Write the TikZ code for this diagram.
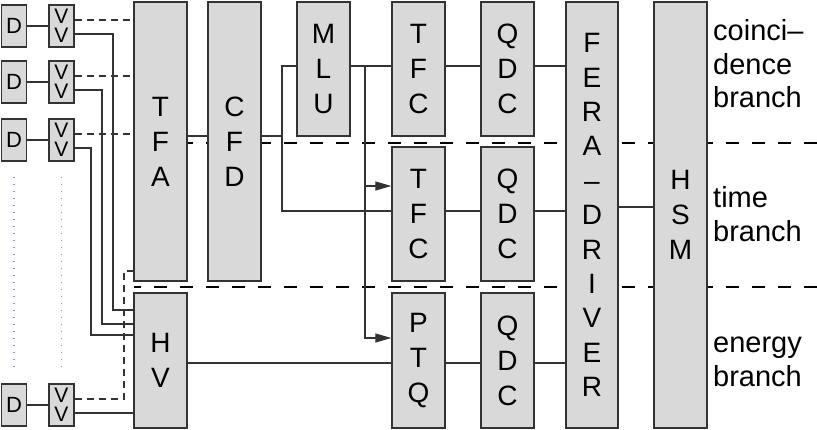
\documentclass[tikz,border=0pt]{standalone}
\usepackage{fontspec}
\setmainfont{Liberation Sans}
\usepackage{tikz}
\usetikzlibrary{arrows.meta,positioning,calc}
\definecolor{boxgray}{rgb}{0.85, 0.85, 0.85}
\definecolor{linegray}{rgb}{0.2, 0.2, 0.2}
\definecolor{dotblue}{rgb}{0.55, 0.55, 0.85}

\begin{document}
\begin{tikzpicture}[x=1pt, y=-1pt, >={Triangle[length=16pt,width=9pt]},
                    every node/.style={font={\fontsize{28}{35}\selectfont}},
                    unit/.style={draw=linegray, fill=boxgray, line width=1.3pt, inner sep=0pt, minimum width=53pt, align=center},
                    det/.style={unit, minimum width=25pt, minimum height=42pt, font={\fontsize{22}{22}\selectfont}},
                    vdiv/.style={unit, minimum width=25pt, minimum height=42pt, font={\fontsize{21}{19.5}\selectfont}},
                    sig/.style={draw=linegray, line width=1.1pt},
                    ctl/.style={sig, dash pattern=on 7pt off 5pt},
                    sep/.style={draw=black, line width=2.6pt, dash pattern=on 13pt off 13pt, dash phase=6pt},
                    more/.style={draw=dotblue, line width=1.3pt, dash pattern=on 1.3pt off 5.7pt}]
                     \useasboundingbox (0,0) rectangle (817,429);

                     % branch separators and the missing detectors
                     \draw[sep] (134,143) -- (817,143);
                     \draw[sep] (134,287) -- (817,287);
                     \draw[more] (14,177) -- (14,370);
                     \draw[more] (61.5,177) -- (61.5,370);

                     \node at (14,26) [det] (d1) {D};
                     \node at (14,82) [det] (d2) {D};
                     \node at (14,140) [det] (d3) {D};
                     \node at (14,405) [det] (d4) {D};
                     \node at (61.5,26) [vdiv] (v1) {V\\V};
                     \node at (61.5,82) [vdiv] (v2) {V\\V};
                     \node at (61.5,140) [vdiv] (v3) {V\\V};
                     \node at (61.5,405) [vdiv] (v4) {V\\V};

                     \node at (160.5,141.5) [unit, minimum height=279pt] (tfa) {T\\F\\A};
                     \node at (160.5,360.5) [unit, minimum height=135pt] (hv) {H\\V};
                     \node at (234.5,141.5) [unit, minimum height=279pt] (cfd) {C\\F\\D};
                     \node at (323.5,69) [unit, minimum height=134pt] (mlu) {M\\L\\U};
                     \node at (418.5,69) [unit, minimum height=134pt] (tfc1) {T\\F\\C};
                     \node at (418.5,214) [unit, minimum height=134pt] (tfc2) {T\\F\\C};
                     \node at (418.5,360.5) [unit, minimum height=135pt] (ptq) {P\\T\\Q};
                     \node at (507.5,69) [unit, minimum height=134pt] (qdc1) {Q\\D\\C};
                     \node at (507.5,214) [unit, minimum height=134pt] (qdc2) {Q\\D\\C};
                     \node at (507.5,360.5) [unit, minimum height=135pt] (qdc3) {Q\\D\\C};
                     \node at (592,215) [unit, minimum width=52pt, minimum height=426pt, font={\fontsize{28}{34.4}\selectfont}] (fera) {F\\E\\R\\A\\–\\D\\R\\I\\V\\E\\R};
                     \node at (680.5,215) [unit, minimum height=426pt] (hsm) {H\\S\\M};

                     \node at (713,64) [anchor=west, inner sep=0pt, align=left, font={\fontsize{29}{33.5}\selectfont}] (lcoin) {coinci–\\dence\\branch};
                     \node at (713,214) [anchor=west, inner sep=0pt, align=left, font={\fontsize{29}{33.5}\selectfont}] (ltime) {time\\branch};
                     \node at (713,362) [anchor=west, inner sep=0pt, align=left, font={\fontsize{29}{33.5}\selectfont}] (lenergy) {energy\\branch};

                     % signal levels
                     \coordinate (ya) at (0,66);
                     \coordinate (yb) at (0,211);
                     \coordinate (yc) at (0,363);
                     \coordinate (yt) at (0,136);
                     \coordinate (ye) at (0,186);
                     \coordinate (yd) at (0,338);
                     \coordinate (yh) at (0,207);
                     \coordinate (sp) at (282,136);
                     \coordinate (sq) at (365,66);
                     \coordinate (h1) at (113,310);
                     \coordinate (h2) at (102,324);
                     \coordinate (h3) at (91,335);
                     \coordinate (k4) at (124,271);
                     \coordinate (v1t) at ([yshift=6pt]v1.east);
                     \coordinate (v2t) at ([yshift=6pt]v2.east);
                     \coordinate (v3t) at ([yshift=6pt]v3.east);
                     \coordinate (v4t) at ([yshift=6pt]v4.east);
                     \coordinate (v1b) at ([yshift=-8pt]v1.east);
                     \coordinate (v2b) at ([yshift=-8pt]v2.east);
                     \coordinate (v3b) at ([yshift=-8pt]v3.east);
                     \coordinate (v4b) at ([yshift=-8pt]v4.east);

                     \draw[sig] (d1) -- (v1);
                     \draw[sig] (d2) -- (v2);
                     \draw[sig] (d3) -- (v3);
                     \draw[sig] (d4) -- (v4);
                     \draw[ctl] (v1t) -- (v1t -| tfa.west);
                     \draw[ctl] (v2t) -- (v2t -| tfa.west);
                     \draw[ctl] (v3t) -- (v3t -| tfa.west);
                     \draw[ctl] (v4t) -| (k4) -- (k4 -| tfa.west);
                     \draw[sig] (v1b) -| (h1) -- (h1 -| hv.west);
                     \draw[sig] (v2b) -| (h2) -- (h2 -| hv.west);
                     \draw[sig] (v3b) -| (h3) -- (h3 -| hv.west);
                     \draw[sig] (v4b) -- (v4b -| hv.west);

                     \draw[sig] (tfa.east |- yt) -- (cfd.west |- yt);
                     \draw[sig] (cfd.east |- yt) -- (sp) |- (mlu.west |- ya);
                     \draw[sig] (sp) |- (tfc2.west |- yb);
                     \draw[sig] (mlu.east |- ya) -- (tfc1.west |- ya);
                     \draw[sig,->] (sq) |- (ptq.west |- yd);
                     \draw[sig,->] (sq |- ye) -- (tfc2.west |- ye);
                     \draw[sig] (hv.east |- yc) -- (ptq.west |- yc);

                     \draw[sig] (tfc1.east |- ya) -- (qdc1.west |- ya);
                     \draw[sig] (qdc1.east |- ya) -- (fera.west |- ya);
                     \draw[sig] (tfc2.east |- yb) -- (qdc2.west |- yb);
                     \draw[sig] (qdc2.east |- yb) -- (fera.west |- yb);
                     \draw[sig] (ptq.east |- yc) -- (qdc3.west |- yc);
                     \draw[sig] (qdc3.east |- yc) -- (fera.west |- yc);
                     \draw[sig] (fera.east |- yh) -- (hsm.west |- yh);
\end{tikzpicture}
\end{document}
